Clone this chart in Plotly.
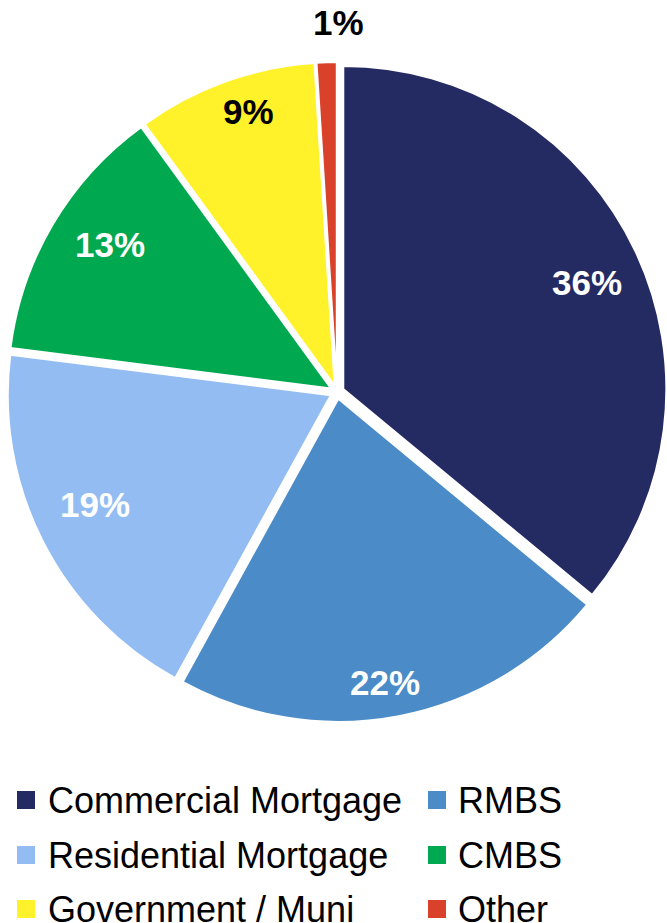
import math
import plotly.graph_objects as go

# Portfolio composition
categories = ["Commercial Mortgage", "RMBS", "Residential Mortgage", "CMBS",
              "Government / Muni", "Other"]
shares = [36, 22, 19, 13, 9, 1]
colors = ["#242A62", "#4A8BC8", "#93BDF2", "#00A850", "#FFF12A", "#D9412A"]
label_colors = ["white", "white", "white", "white", "black", "black"]

W, H = 667, 923
CX, CY = 337, 392          # pie centre in px
HALF = W - CX              # half of the pie domain size
R_LABEL = 325              # reference radius for label placement
label_radius = [0.83, 0.91, 0.83, 0.835, 0.90, 1.13]
PULL = 0.0215

fig = go.Figure(go.Pie(
    labels=categories,
    values=shares,
    sort=False,
    direction="clockwise",
    rotation=0,
    pull=[PULL] * len(shares),
    marker=dict(colors=colors, line=dict(color="white", width=2)),
    textinfo="none",
    hoverinfo="label+percent",
    showlegend=False,
    domain=dict(x=[(CX - HALF) / W, 1.0],
                y=[1 - (CY + HALF) / H, 1 - (CY - HALF) / H]),
))

# Percentage labels placed along each slice's mid-angle
annotations = []
shapes = []
total = sum(shares)
cum = 0
for i, v in enumerate(shares):
    mid = (cum + v / 2) / total * 360 + 1.8
    cum += v
    rr = label_radius[i] * R_LABEL
    px = CX + 2 + rr * math.sin(math.radians(mid))
    py = CY - 2 - rr * math.cos(math.radians(mid))
    annotations.append(dict(
        text=f"<b>{v}%</b>", x=px / W, y=1 - py / H, xref="paper", yref="paper",
        showarrow=False, xanchor="center", yanchor="middle",
        font=dict(family="Liberation Sans, Arial, sans-serif", size=35,
                  color=label_colors[i]),
    ))

# Two-column legend below the pie
col_marker_x = [17, 428]
col_text_x = [46, 456]
row_y = [800, 855, 909]
SQ = 18
for i, name in enumerate(categories):
    c, r = i % 2, i // 2
    yc = row_y[r]
    x0 = col_marker_x[c]
    shapes.append(dict(
        type="rect", xref="paper", yref="paper",
        x0=x0 / W, x1=(x0 + SQ) / W,
        y0=1 - (yc + SQ / 2) / H, y1=1 - (yc - SQ / 2) / H,
        fillcolor=colors[i], line=dict(width=0),
    ))
    annotations.append(dict(
        text=name, x=col_text_x[c] / W, y=1 - yc / H, xref="paper", yref="paper",
        showarrow=False, xanchor="left", yanchor="middle",
        font=dict(family="Liberation Sans, Arial, sans-serif", size=36, color="black"),
    ))

fig.update_layout(
    width=W, height=H,
    margin=dict(l=0, r=0, t=0, b=0),
    paper_bgcolor="white",
    plot_bgcolor="white",
    annotations=annotations,
    shapes=shapes,
)

fig.write_html("out.html")
